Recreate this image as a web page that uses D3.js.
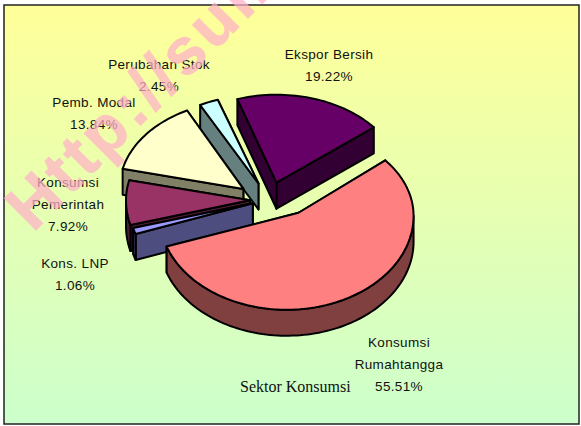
<!DOCTYPE html>
<html><head><meta charset="utf-8">
<style>html,body{margin:0;padding:0;background:#fff}svg{display:block}</style>
<script src="https://cdn.jsdelivr.net/npm/d3@7/dist/d3.min.js"></script>
</head><body><svg id="c" width="581" height="426"></svg>
<script>
// Data, in clockwise drawing order from the pie's first angle
const categories = ["Konsumsi Rumahtangga","Kons. LNP","Konsumsi Pemerintah","Pemb. Modal","Perubahan Stok","Ekspor Bersih"];
const values = [55.51,1.06,7.92,13.84,2.45,19.22];
const labelLines = [["Konsumsi","Rumahtangga"],["Kons. LNP"],["Konsumsi","Pemerintah"],["Pemb. Modal"],["Perubahan Stok"],["Ekspor Bersih"]];
const topColors = ["#ff8080","#9999ff","#993366","#ffffcc","#ccffff","#660066"];
const sideColors = ["#804040","#4d4d80","#4d1a33","#808066","#668080","#330033"];
const explodeFactors = [1,0.6,0.6,1,1,1];
const title = "Sektor Konsumsi";
const watermark = "Http://sumb";

// Layout
const svg = d3.select("#c");
const cx = 270, cy = 200, ex = 30, ey = 18;
const rx = 124, ryBack = 88, ryFront = 94, depth = 26;
const startDeg = 51;
const labelPos = [{x:399,y:347},{x:75,y:268},{x:68,y:187},{x:94,y:107},{x:159,y:69},{x:329,y:59}];
const lineGap = 22;
const nudge = [{dx:2,rs:1.024,adx:12,ady:-3},{dx:0,rs:1,adx:0,ady:0},{dx:-2,rs:1,adx:0,ady:0},{dx:-3,rs:1,adx:0,ady:0},{dx:-2,rs:1,adx:2,ady:0},{dx:-2,rs:1.01,adx:0,ady:0}];

const defs = svg.append("defs");
const g = defs.append("linearGradient").attr("id","bg").attr("x1",0).attr("y1",0).attr("x2",0).attr("y2",1);
g.append("stop").attr("offset","0%").attr("stop-color","#ffff99");
g.append("stop").attr("offset","100%").attr("stop-color","#ccffcc");

svg.append("rect").attr("x",4).attr("y",5).attr("width",575).attr("height",419)
  .attr("fill","url(#bg)").attr("stroke","#222").attr("stroke-width",1.5);

const pieGen = d3.pie().sort(null).value(d=>d)
  .startAngle(startDeg*Math.PI/180).endAngle(startDeg*Math.PI/180+2*Math.PI);
const arcs = pieGen(values);

const font = "'Liberation Sans',Arial,sans-serif";
const labels = svg.append("g").attr("font-family",font).attr("font-size",13.5).attr("letter-spacing",0.35).attr("fill","#111").attr("text-anchor","middle");
categories.forEach((c,i)=>{
  const lines = labelLines[i].concat([d3.format(".2f")(values[i])+"%"]);
  lines.forEach((t,k)=>labels.append("text").attr("x",labelPos[i].x).attr("y",labelPos[i].y+k*lineGap).text(t));
});
svg.append("text").attr("x",240).attr("y",392).attr("font-family","'Liberation Serif','Times New Roman',serif")
  .attr("font-size",16).attr("fill","#111").text(title);

svg.append("text").attr("transform","translate(33,233) rotate(-45)")
  .attr("font-family",font).attr("font-weight","bold").attr("font-size",65)
  .attr("letter-spacing",4).attr("fill","#ffb1c8").attr("stroke","#ffb1c8").attr("stroke-width",1)
  .attr("opacity",0.72).text(watermark);

function rim(a,ax,ay,r,dz){
  const s=Math.sin(a),c=Math.cos(a);
  return [ax+r*s, ay-(c>0?ryBack:ryFront)*c+(dz||0)];
}
const line = d3.line();
function samples(a0,a1){
  const n=Math.max(2,Math.ceil(Math.abs(a1-a0)/0.03));
  return d3.range(n+1).map(i=>a0+(a1-a0)*i/n);
}
const order = [5,4,3,2,1,0];
const pieG = svg.append("g").attr("stroke","#000").attr("stroke-width",2).attr("stroke-linejoin","round");
order.forEach(i=>{
  const d=arcs[i], mid=(d.startAngle+d.endAngle)/2, f=explodeFactors[i], n=nudge[i];
  const ax=cx+ex*f*Math.sin(mid)+n.dx, ay=cy-ey*f*Math.cos(mid), r=rx*n.rs;
  const tipX=ax+n.adx, tipY=ay+n.ady;
  const g=pieG.append("g");
  [d.endAngle,d.startAngle].forEach(a=>{
    const p=rim(a,ax,ay,r);
    g.append("path").attr("fill",sideColors[i])
      .attr("d",line([[tipX,tipY],p,[p[0],p[1]+depth],[tipX,tipY+depth]])+"Z");
  });
  const pi=Math.PI, k=Math.floor(d.startAngle/(2*pi));
  const a0=Math.max(d.startAngle,pi/2+2*pi*k), a1=Math.min(d.endAngle,3*pi/2+2*pi*k);
  if(a1>a0){
    const as=samples(a0,a1);
    const pts=as.map(a=>rim(a,ax,ay,r)).concat(as.slice().reverse().map(a=>rim(a,ax,ay,r,depth)));
    g.append("path").attr("fill",sideColors[i]).attr("d",line(pts)+"Z");
  }
  const top=[[tipX,tipY]].concat(samples(d.startAngle,d.endAngle).map(a=>rim(a,ax,ay,r)));
  g.append("path").attr("fill",topColors[i]).attr("d",line(top)+"Z");
});
</script></body></html>
